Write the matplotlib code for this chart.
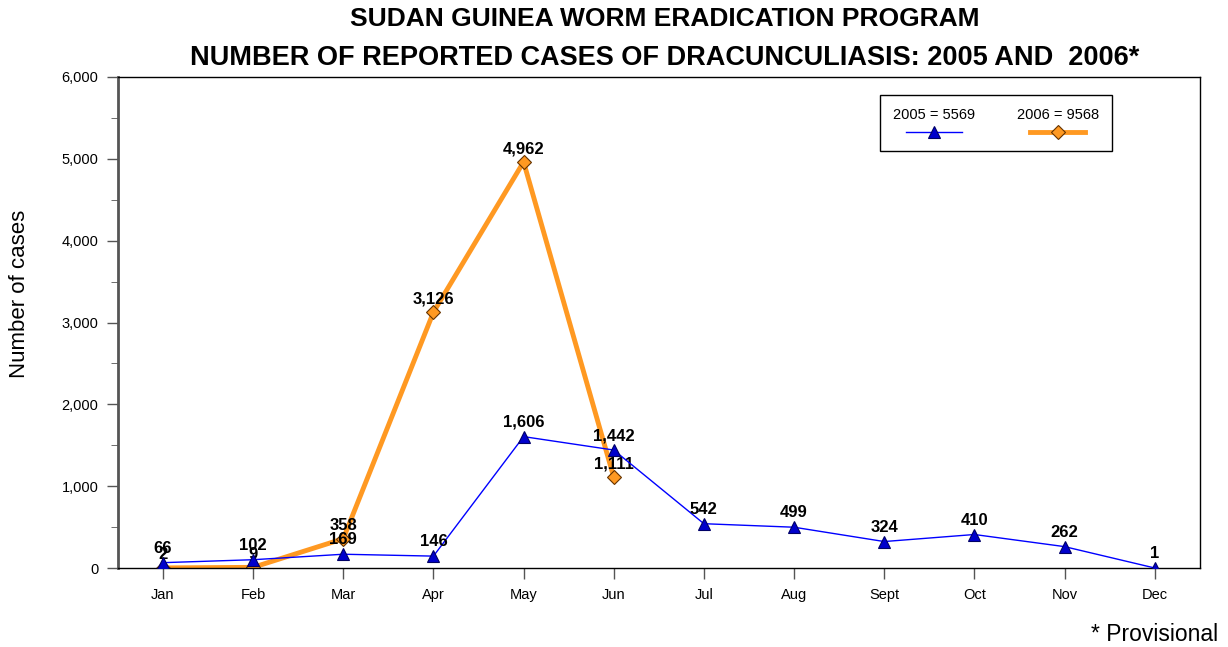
import matplotlib
matplotlib.use("Agg")
import matplotlib.pyplot as plt
from matplotlib.ticker import FuncFormatter, MultipleLocator
from matplotlib.offsetbox import AnchoredOffsetbox, TextArea, DrawingArea, VPacker, HPacker
from matplotlib.lines import Line2D

months = ["Jan", "Feb", "Mar", "Apr", "May", "Jun", "Jul", "Aug", "Sept", "Oct", "Nov", "Dec"]
cases_2005 = [66, 102, 169, 146, 1606, 1442, 542, 499, 324, 410, 262, 1]
cases_2006 = [2, 9, 358, 3126, 4962, 1111]
labels = ["2005 = 5569", "2006 = 9568"]

plt.rcParams['font.family'] = ['Liberation Sans', 'DejaVu Sans']

fig = plt.figure(figsize=(12.28, 6.47), dpi=100)
ax = fig.add_axes([0.096, 0.122, 0.881, 0.759])

x05 = range(len(cases_2005))
x06 = range(len(cases_2006))

style05 = dict(color="#0000ff", lw=1, marker="^", ms=8, mfc="#0000cc", mec="#000066", mew=0.8)
style06 = dict(color="#ff9922", lw=3.5, marker="D", ms=7, mfc="#ff9922", mec="#663300", mew=0.8)

ax.plot(x06, cases_2006, zorder=2, **style06)
ax.plot(x05, cases_2005, zorder=4, **style05)

for x, v in zip(x06, cases_2006):
    ax.annotate(f"{v:,}", (x, v), xytext=(0, 4), textcoords="offset points",
                ha="center", va="bottom", fontsize=12, fontweight="bold", zorder=3)
for x, v in zip(x05, cases_2005):
    ax.annotate(f"{v:,}", (x, v), xytext=(0, 5), textcoords="offset points",
                ha="center", va="bottom", fontsize=12, fontweight="bold", zorder=5)

ax.set_xlim(-0.5, 11.5)
ax.set_ylim(0, 6000)
ax.set_xticks(list(x05))
ax.set_xticklabels(months)
ax.yaxis.set_major_locator(MultipleLocator(1000))
ax.yaxis.set_minor_locator(MultipleLocator(500))
ax.yaxis.set_major_formatter(FuncFormatter(lambda v, p: f"{int(v):,}"))
ax.tick_params(axis="both", labelsize=10.5, length=8, width=1, color="#555555", pad=6)
ax.tick_params(axis="y", which="minor", length=5, color="#555555")
for s in ax.spines.values():
    s.set_linewidth(1)
ax.spines["left"].set_color("#555555")
ax.spines["left"].set_linewidth(2)

# legend: label above its line sample
items = []
for lab, st in zip(labels, [style05, style06]):
    da = DrawingArea(40, 8, 0, 0)
    da.add_artist(Line2D([0, 40], [4, 4], color=st["color"], lw=st["lw"]))
    da.add_artist(Line2D([20], [4], marker=st["marker"], ms=st["ms"], mfc=st["mfc"],
                         mec=st["mec"], mew=st["mew"], ls="none"))
    items.append(VPacker(children=[TextArea(lab, textprops=dict(fontsize=10.5)), da],
                         align="center", pad=0, sep=3))
box = AnchoredOffsetbox(loc="upper left", child=HPacker(children=items, align="center", pad=0, sep=30),
                        pad=0.95, borderpad=0, frameon=True,
                        bbox_to_anchor=(0.704, 0.963), bbox_transform=ax.transAxes)
box.patch.set_edgecolor("black")
box.patch.set_linewidth(1)
box.set_zorder(6)
ax.add_artist(box)

fig.text(0.541, 0.970, "SUDAN GUINEA WORM ERADICATION PROGRAM", ha="center", va="center",
         fontsize=19, fontweight="bold")
fig.text(0.541, 0.910, "NUMBER OF REPORTED CASES OF DRACUNCULIASIS: 2005 AND  2006*",
         ha="center", va="center", fontsize=19.5, fontweight="bold")
fig.text(0.016, 0.546, "Number of cases", rotation=90, ha="center", va="center", fontsize=16)
fig.text(0.992, 0.019, "* Provisional", ha="right", va="center", fontsize=16.5)

fig.savefig("out.png", dpi=100)
